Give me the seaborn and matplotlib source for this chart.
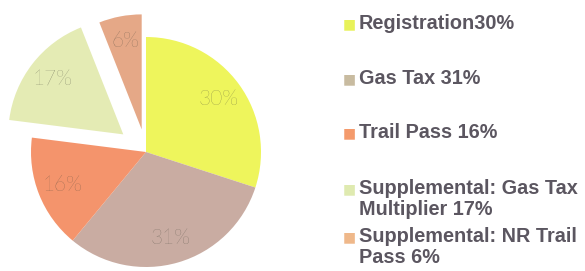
import matplotlib.pyplot as plt
import seaborn as sns


# revenue split, clockwise from 12 o'clock
SOURCES = [
    "Registration",
    "Gas Tax",
    "Trail Pass",
    "Supplemental: Gas Tax Multiplier",
    "Supplemental: NR Trail Pass",
]
SHARES = [30, 31, 16, 17, 6]
LEGEND_LABELS = [
    "Registration30%",
    "Gas Tax 31%",
    "Trail Pass 16%",
    "Supplemental: Gas Tax\nMultiplier 17%",
    "Supplemental: NR Trail\nPass 6%",
]
EXPLODE = [0, 0, 0, 0.25, 0.2]

COLORS = ["#eef55c", "#c9aca2", "#f4946c", "#e4ebb4", "#e5a887"]
LEGEND_COLORS = ["#e8f25a", "#c8bba0", "#f49a6c", "#dfeab0", "#efb88a"]

FIG_W, FIG_H = 585, 271
CX, CY, R = 146, 152, 115  # pie centre / radius in pixels
LEGEND_TOP = [14, 69, 123, 179, 227]


def main() -> None:
    sns.set_theme(style="white")
    plt.rcParams["font.family"] = ["Liberation Sans", "DejaVu Sans"]

    fig = plt.figure(figsize=(FIG_W / 100, FIG_H / 100), dpi=100)
    ax = fig.add_axes([0, 0, 2 * CX / FIG_W, 1])

    palette = sns.color_palette(COLORS)
    wedges, texts, autotexts = ax.pie(
        SHARES,
        explode=EXPLODE,
        colors=palette,
        startangle=90,
        counterclock=False,
        autopct="%1.0f%%",
        pctdistance=0.78,
        wedgeprops={"linewidth": 0},
        textprops={"family": ["Lato", "DejaVu Sans"], "fontweight": "light",
                   "fontsize": 15, "color": "#45453a", "alpha": 0.78},
    )
    ax.set_aspect("auto")
    ax.set_xlim(-CX / R, CX / R)
    ax.set_ylim(-(FIG_H - CY) / R, CY / R)
    ax.axis("off")

    for label, color, top in zip(LEGEND_LABELS, LEGEND_COLORS, LEGEND_TOP):
        y = 1 - top / FIG_H
        fig.text(343 / FIG_W, y - 3 / FIG_H, "■", color=color, fontsize=10,
                 va="top", ha="left", family="DejaVu Sans")
        fig.text(359 / FIG_W, y, label, color="#5b5660", fontsize=14.3,
                 fontweight="bold", va="top", ha="left", linespacing=1.13)

    fig.savefig("out.png", dpi=100)
    plt.close(fig)


if __name__ == "__main__":
    main()
